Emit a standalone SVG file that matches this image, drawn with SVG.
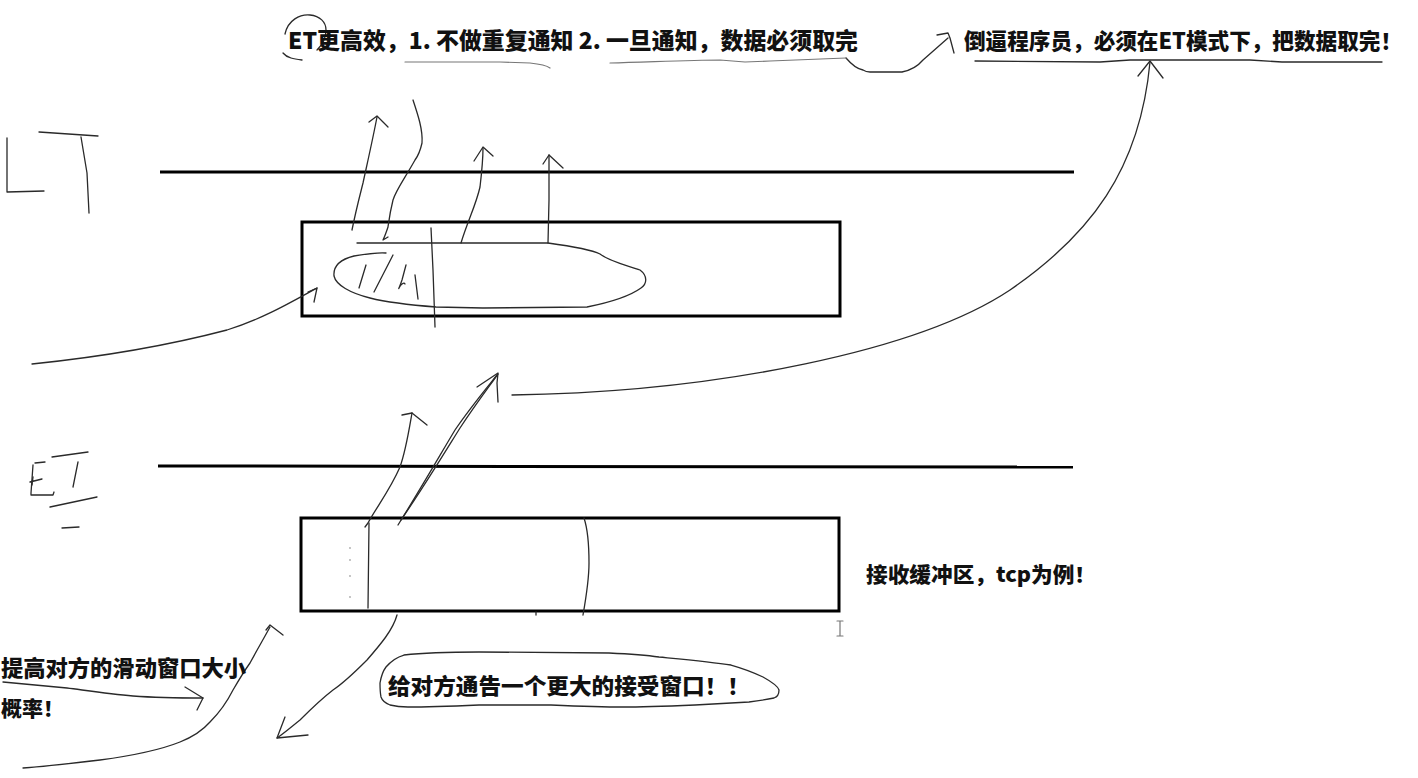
<svg xmlns="http://www.w3.org/2000/svg" width="1418" height="778" viewBox="0 0 1418 778">
<style>
.bg{fill:#ffffff}
.box{fill:none;stroke:#000;stroke-width:3}
.rule{fill:none;stroke:#000;stroke-width:3;stroke-linecap:butt}
.h{fill:none;stroke:#2a2a2a;stroke-width:1.3;stroke-linecap:round;stroke-linejoin:round}
.g{fill:none;stroke:#777;stroke-width:1.2;stroke-linecap:round;stroke-linejoin:round}
.dot{fill:#aaa}
.t{font-family:"Noto Sans CJK SC","Microsoft YaHei",sans-serif;font-weight:900;fill:#111}
</style>
<rect class="bg" x="0" y="0" width="1418" height="778"/>

<g id="label-LT">
<path class="h" d="M7,138 L7,192 L44,191"/>
<path class="h" d="M39,132 L98,136"/>
<path class="h" d="M81,137 L87,173 L89,213"/>
</g>

<g id="label-ET">
<path class="h" d="M35,463 L45,462"/>
<path class="h" d="M52,457 L88,452"/>
<path class="h" d="M33,465 L31,493 L31,495 L53,495 L54,492"/>
<path class="h" d="M30,482 L42,479 M33,477 L32,485"/>
<path class="h" d="M78,462 L73,487"/>
<path class="h" d="M50,507 L97,497"/>
<path class="h" d="M62,528 L79,527"/>
</g>

<g id="lt-line">
<line class="rule" x1="160" y1="172" x2="1074" y2="172"/>
</g>
<g id="et-line">
<line class="rule" x1="158" y1="466" x2="1073" y2="467"/>
</g>

<g id="lt-buffer">
<rect class="box" x="302" y="222" width="538" height="94"/>
<path class="h" d="M357,243 L548,243 C570,246 592,250 600,254 C610,262 630,266 640,270 C648,276 647,284 641,288 C630,296 612,302 587,307 L483,308 L436,307 C410,305 390,303 370,298 C350,293 336,285 334,276 C333,265 342,259 354,256 C366,254 378,252 386,253"/>
<path class="h" d="M431,228 L433,270 L435,327"/>
<path class="h" d="M366,265 L359,288"/>
<path class="h" d="M393,255 L374,292"/>
<path class="h" d="M406,265 L402,280 C400,286 398,290 399,288 C401,284 404,282 405,284"/>
<path class="h" d="M415,275 L418,299"/>
</g>

<g id="et-buffer">
<rect class="box" x="301" y="518" width="538" height="93"/>
<path class="h" d="M369,523 L368,608"/>
<path class="h" d="M584,518 C588,530 589,545 589,563 C589,580 586,598 583,615"/>
<path class="h" d="M536,612 L536,615"/>
<circle class="dot" cx="350" cy="548" r="0.9"/>
<circle class="dot" cx="350" cy="560" r="0.9"/>
<circle class="dot" cx="350" cy="576" r="0.9"/>
<circle class="dot" cx="350" cy="597" r="0.9"/>
<path class="g" d="M840,621 L840,636 M837,621 L843,621 M837,636 L843,636"/>
</g>

<g id="connectors">
<path class="h" d="M352,230 C356,210 360,195 363,183 C368,160 373,138 377,117"/>
<path class="h" d="M369,122 L377,116 L388,127"/>
<path class="h" d="M413,100 C418,115 423,130 422,143 C420,152 418,156 415,160 C405,178 396,190 393,200 C390,212 389,220 388,227 C386,233 384,238 383,240 L388,237"/>
<path class="h" d="M461,243 C468,220 476,205 480,187 C482,170 483,158 483,148"/>
<path class="h" d="M474,161 L483,147 L493,156"/>
<path class="h" d="M548,243 L549,200 L549,155"/>
<path class="h" d="M543,164 L549,155 L563,168"/>
<path class="h" d="M32,364 C100,357 170,345 227,330 C260,320 290,303 317,288"/>
<path class="h" d="M308,292 L317,288 L314,302"/>
<path class="h" d="M365,527 L368,523 C376,508 390,490 400,467 C406,450 409,430 412,413"/>
<path class="h" d="M402,415 L412,413 L427,425"/>
<path class="h" d="M398,525 C420,490 440,455 455,430 C470,408 485,390 497,375"/>
<path class="h" d="M401,520 C425,485 445,452 460,428 C475,405 488,388 498,374"/>
<path class="h" d="M477,387 L498,373 L497,383 L498,402"/>
<path class="h" d="M512,395 C720,392 920,350 1010,290 C1090,235 1140,170 1150,62"/>
<path class="h" d="M1138,76 L1150,61 L1163,78"/>
<path class="h" d="M397,615 C393,630 380,645 367,660 C355,672 345,682 333,690 C320,700 310,710 300,720 C290,728 283,734 277,738"/>
<path class="h" d="M285,717 L277,738 L308,735"/>
<path class="h" d="M23,768 C50,766 75,763 100,760 C130,756 160,750 180,742 C195,736 203,730 210,722 C220,712 227,702 233,690 C240,678 245,670 250,663 C257,650 264,638 270,627"/>
<path class="h" d="M266,630 L270,625 L283,635"/>
<path class="h" d="M3,682 C25,684 45,686 67,688 C90,691 110,694 133,696 C160,698 185,698 203,698"/>
<path class="h" d="M185,687 L203,698 L197,710"/>
<path class="h" d="M846,58 C852,65 857,69 863,70 C866,72 868,72 870,72 L902,72 C912,70 918,66 923,60 C932,52 940,45 948,38"/>
<path class="h" d="M937,35 L948,33 L950,38 L954,53"/>
</g>

<g id="note-top-left">
<path class="h" d="M285,34 C288,20 300,14 310,15 C320,16 326,22 326,30 C326,38 322,45 317,50"/>
<path class="h" d="M283,53 C287,58 294,59 302,60"/>
<text class="t" x="288" y="49" font-size="23" textLength="570" lengthAdjust="spacingAndGlyphs">ET更高效，1. 不做重复通知 2. 一旦通知，数据必须取完</text>
<path class="g" d="M405,62 L500,62 L530,63 C540,64 546,65 550,68"/>
<path class="g" d="M610,63 C650,62 690,60 720,60 L745,62 L770,61 L846,58"/>
</g>

<g id="note-top-right">
<text class="t" x="964" y="49" font-size="22" textLength="438" lengthAdjust="spacingAndGlyphs">倒逼程序员，必须在ET模式下，把数据取完！</text>
<path class="h" d="M975,61 L1100,62 L1130,60 L1250,60 L1282,62 L1382,62"/>
</g>

<g id="note-buffer">
<text class="t" x="866" y="582" font-size="21" textLength="230" lengthAdjust="spacingAndGlyphs">接收缓冲区，tcp为例！</text>
</g>

<g id="note-window">
<path class="h" d="M404,655 C430,652 460,652 479,652 C530,652 580,653 609,653 C630,654 645,655 659,657 C690,660 712,662 731,665 C745,669 755,673 763,677 C772,682 778,686 779,690 C779,694 777,697 774,698 C765,700 757,701 749,702 C730,703 712,704 695,705 C670,706 645,707 623,707 C600,707 575,706 551,705 C525,705 500,705 479,705 C455,706 430,707 408,707 C400,707 394,706 390,705 C385,703 382,700 381,697 C380,692 380,688 380,683 C381,677 383,671 386,667 C391,661 397,657 404,655"/>
<text class="t" x="388" y="694" font-size="22" textLength="362" lengthAdjust="spacingAndGlyphs">给对方通告一个更大的接受窗口！！</text>
</g>

<g id="note-left">
<text class="t" x="1" y="676" font-size="22" textLength="245" lengthAdjust="spacingAndGlyphs">提高对方的滑动窗口大小</text>
<text class="t" x="1" y="716" font-size="21">概率！</text>
</g>
</svg>
